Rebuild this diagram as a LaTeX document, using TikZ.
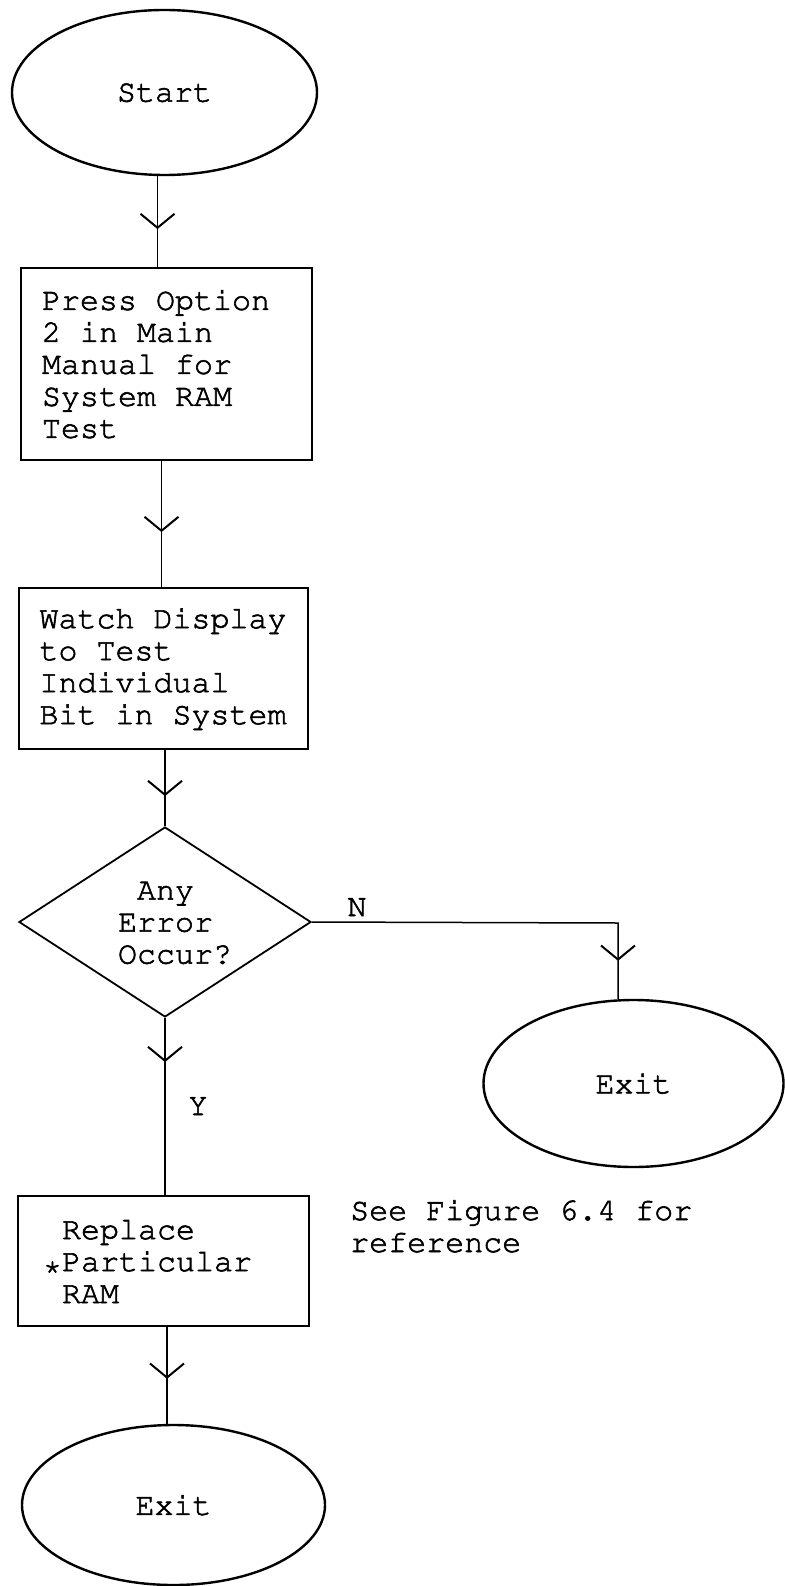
\documentclass[tikz,border=0pt]{standalone}
\usepackage[T1]{fontenc}
\usetikzlibrary{shapes.geometric,arrows.meta,decorations.markings}
\newcommand\courierfont{\fontfamily{pcr}\fontsize{31.67}{32}\selectfont\spaceskip=0.6em\relax\xspaceskip=0.6em\relax\special{pdf:literal direct 2 Tr 0.6 w}}
\begin{document}
\begin{tikzpicture}[x=1pt,y=-1pt,
  every node/.style={font=\courierfont},
  term/.style={ellipse, draw, line width=2.4pt, inner sep=0pt},
  proc/.style={rectangle, draw, line width=1.8pt, align=flush left, inner ysep=0pt},
  decision/.style={diamond, draw, line width=1.8pt, inner sep=0pt},
  flow/.style={line width=1.5pt},
  tipat/.style={postaction={decorate}, decoration={markings, mark=at position -#1 with {\arrow[line width=2pt]{Straight Barb[length=14pt,width=34pt]}}}},
]
\path[use as bounding box, fill=white] (0,0) rectangle (784,1586);

\node[term, minimum width=305pt, minimum height=165pt] (start) at (164.5,92.5) {Start};
\node[proc, minimum width=291pt, minimum height=192pt, text width=249pt, inner xsep=21pt] (box1) at (166.5,364) {Press Option\\2 in Main\\Manual for\\System RAM\\Test};
\node[proc, minimum width=289pt, minimum height=161pt, text width=248pt, inner xsep=20.5pt] (box2) at (163.5,668.5) {Watch Display\\to Test\\Individual\\Bit in System};
\node[decision, minimum width=292pt, minimum height=190pt] (dec) at (165,922) {};
\node[align=flush left, inner sep=0pt] (dectext) at (175,923) {\ Any\\Error\\Occur?};
\node[term, minimum width=300pt, minimum height=167pt] (exitr) at (633.5,1083.5) {Exit};
\node[proc, minimum width=291pt, minimum height=130pt, text width=241pt, inner xsep=25pt] (box3) at (163.5,1261) {\ Replace\\\raisebox{-0.12em}{*}Particular\\\ RAM};
\node[term, minimum width=303pt, minimum height=160pt] (exitb) at (173.5,1505) {Exit};
\node[anchor=base west, align=flush left, inner sep=0pt] (note) at (350,1252) {See Figure 6.4 for\\reference};
\node[anchor=base, inner sep=0pt] (nlab) at (357,916) {N};
\node[anchor=base, inner sep=0pt] (ylab) at (198,1115) {Y};

\coordinate (nc) at (618,923);
\draw[flow, tipat=38pt] ([xshift=-7pt]start.south) -- ([xshift=-7pt]start.south |- box1.north);
\draw[flow, tipat=55pt] ([xshift=-5pt]box1.south) -- ([xshift=-5pt]box1.south |- box2.north);
\draw[flow, tipat=30pt] (box2.south -| dec.north) -- (dec.north);
\draw[flow, tipat=38pt] (dec.east) -- (nc) -- (nc |- exitr.north);
\draw[flow, tipat=133pt] (dec.south) -- (dec.south |- box3.north);
\draw[flow, tipat=45pt] ([xshift=3.5pt]box3.south) -- ([xshift=3.5pt]box3.south |- exitb.north);
\end{tikzpicture}
\end{document}
